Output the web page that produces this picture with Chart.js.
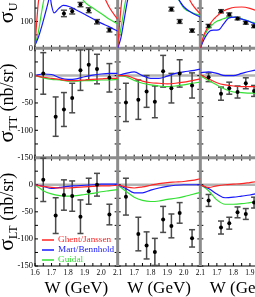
<!DOCTYPE html>
<html>
<head>
<meta charset="utf-8">
<script src="https://cdn.jsdelivr.net/npm/chart.js@4.4.1/dist/chart.umd.min.js"></script>
<style>
  html, body { margin: 0; padding: 0; background: #fff; }
  #wrap { position: relative; width: 255px; height: 297px; overflow: hidden; }
  #plot { position: absolute; left: 0; top: -77px; }
</style>
</head>
<body>
<div id="wrap"><canvas id="plot" width="290" height="374"></canvas></div>
<script>
const FONT = 'Liberation Serif';

const models = ['Ghent/Janssen', 'Mart/Bennhold', 'Guidal'];
const modelColors = ['#ff2424', '#1818ff', '#33e033'];

// W bins of the measured points (GeV)
const wData = [1.65, 1.725, 1.775, 1.825, 1.875, 1.925, 1.975, 2.05];
// W samples of the model curves
const wU = [1.6, 1.62, 1.64, 1.66, 1.68, 1.69, 1.70, 1.715, 1.74, 1.77, 1.81, 1.85, 1.9, 1.95, 2.0, 2.05, 2.1];
const wModel = [1.6, 1.65, 1.7, 1.75, 1.8, 1.85, 1.9, 1.95, 2.0, 2.05, 2.1];

// sigma_U data, columns 1..3 (null = outside the picture)
const sigU1 = [null, null, 130, 138, 163, 142, 99, 68];
const errU1 = [null, null, 12, 10, 8, 9, 8, 7];
const sigU2 = [null, null, null, null, null, 146, 100, 66];
const errU2 = [null, null, null, null, null, 7, 7, 6];
const sigU3 = [83, 138, 126, 111, 95, 82, null, null];
const errU3 = [6, 6, 6, 5, 5, 5, null, null];

// sigma_TT data
const sigTT1 = [4, -75, -62, -41, 10, 20, 12, -4];
const errTT1 = [38, 36, 31, 27, 37, 28, 27, 26];
const sigTT2 = [-49, -44, -29, -48, 8, -23, 4, -18];
const errTT2 = [35, 36, 29, 29, 29, 27, 25, 23];
const sigTT3 = [-3, -33, -23, -30, -14, -28, null, null];
const errTT3 = [8, 12, 11, 11, 10, 10, null, null];

// sigma_LT data
const sigLT1 = [9, -57, -19, -21, -59, -12, 0, -55];
const errLT1 = [40, 33, 28, 28, 31, 24, 21, 19];
const sigLT2 = [-22, -91, -112, -124, -64, -76, -52, -99];
const errLT2 = [34, 31, 25, 25, 24, 22, 19, 16];
const sigLT3 = [-29, -79, -71, -51, -54, -33, null, null];
const errLT3 = [11, 12, 11, 10, 10, 10, null, null];

// model curves, sigma_U (on wU)
const uRed1 = [10, 170, 250, 290, 310, 318, 325, 330, 335, 338, 338, 330, 310, 270, 215, 152, 108];
const uBlue1 = [12, 40, 80, 125, 172, 195, 160, 132, 146, 160, 155, 143, 127, 110, 94, 80, 64];
const uGreen1 = [8, 60, 135, 200, 240, 252, 260, 266, 270, 265, 250, 220, 173, 150, 130, 108, 91];
const uRed2 = [5, 150, 260, 300, 320, 325, 330, 335, 340, 340, 335, 320, 295, 260, 220, 165, 127];
const uBlue2 = [0, 40, 110, 180, 230, 245, 255, 262, 268, 270, 265, 255, 235, 200, 155, 132, 116];
const uGreen2 = [10, 75, 150, 215, 250, 260, 265, 270, 272, 270, 262, 250, 228, 200, 150, 133, 122];
const uRed3 = [0, 47, 73, 92, 108, 114, 120, 128, 139, 147, 153, 154, 149, 138, 125, 110, 95];
const uBlue3 = [0, 30, 52, 65, 68, 68, 68, 70, 90, 112, 116, 109, 99, 86, 78, 70, 64];
const uGreen3 = [0, 40, 65, 80, 92, 97, 101, 104, 110, 115, 115, 110, 100, 90, 82, 75, 70];

// model curves, sigma_TT (on wModel)
const ttRed1 = [0, -3, -5, -7, -9, -9, -8, -7, -6, -5, -5];
const ttBlue1 = [0, 3, 2, -4, -7, -6, -2, 1, 3, 4, 4];
const ttGreen1 = [0, -4, -7, -8, -10, -10, -9, -9, -8, -8, -7];
const ttRed2 = [0, 0, -5, -10, -13, -14, -15, -14, -12, -9, -6];
const ttBlue2 = [0, 4, 7, 0, -5, -5, -1, 4, 7, 9, 12];
const ttGreen2 = [0, -2, -9, -14, -17, -19, -20, -19, -17, -14, -12];
const ttRed3 = [2, -6, -13, -17, -19, -20, -20, -20, -20, -20, -20];
const ttBlue3 = [5, 7, 4, 0, 0, 4, 8, 11, 13, 14, 15];
const ttGreen3 = [0, -9, -17, -25, -30, -31, -32, -32, -32, -32, -32];

// model curves, sigma_LT (on wModel)
const ltRed1 = [0, -3, -5, -6, -6, -5, -4, -3, -2, -2, -1];
const ltBlue1 = [0, -3, -7, -5, -3, -2, -1, 0, 1, 1, 1];
const ltGreen1 = [0, -11, -17, -20, -21, -20, -18, -16, -13, -11, -9];
const ltRed2 = [0, -4, -6, -4, -1, 2, 4, 5, 6, 8, 11];
const ltBlue2 = [0, -7, -15, -15, -10, -6, -3, -1, 0, 0, 0];
const ltGreen2 = [0, -12, -23, -29, -31, -30, -27, -25, -22, -18, -14];
const ltRed3 = [0, -5, -2, 0, 1, 2, 4, 6, 7, 8, 9];
const ltBlue3 = [0, -7, -17, -24, -23, -21, -19, -16, -14, -12, -10];
const ltGreen3 = [0, -11, -28, -36, -36, -35, -33, -31, -29, -27, -25];

const rows = [
  { id: 'yU', sub: 'U', min: 0, max: 460, step: 100, minor: 50, h: 124, w: wU,
    vals: [sigU1, sigU2, sigU3], errs: [errU1, errU2, errU3],
    curves: [[uRed1, uBlue1, uGreen1], [uRed2, uBlue2, uGreen2], [uRed3, uBlue3, uGreen3]] },
  { id: 'yTT', sub: 'TT', min: -150, max: 50, step: 50, minor: 25, h: 110, w: wModel,
    vals: [sigTT1, sigTT2, sigTT3], errs: [errTT1, errTT2, errTT3],
    curves: [[ttRed1, ttBlue1, ttGreen1], [ttRed2, ttBlue2, ttGreen2], [ttRed3, ttBlue3, ttGreen3]] },
  { id: 'yLT', sub: 'LT', min: -150, max: 50, step: 50, minor: 25, h: 109, w: wModel,
    vals: [sigLT1, sigLT2, sigLT3], errs: [errLT1, errLT2, errLT3],
    curves: [[ltRed1, ltBlue1, ltGreen1], [ltRed2, ltBlue2, ltGreen2], [ltRed3, ltBlue3, ltGreen3]] }
];

const datasets = [];
rows.forEach(row => {
  for (let c = 0; c < 3; c++) {
    const xId = 'x' + (c + 1);
    row.curves[c].forEach((vals, m) => {
      datasets.push({
        label: models[m],
        showLine: true,
        order: 1,
        data: row.w.map((w, i) => ({ x: w, y: vals[i] })),
        borderColor: modelColors[m],
        borderWidth: 1.2,
        pointRadius: 0,
        cubicInterpolationMode: 'monotone',
        xAxisID: xId,
        yAxisID: row.id
      });
    });
    const pts = [];
    wData.forEach((w, i) => {
      if (row.vals[c][i] != null) pts.push({ x: w, y: row.vals[c][i], e: row.errs[c][i] });
    });
    datasets.push({
      label: 'data',
      order: 0,
      errorBars: true,
      data: pts,
      pointRadius: 2,
      pointHoverRadius: 2,
      backgroundColor: '#000',
      borderWidth: 0,
      xAxisID: xId,
      yAxisID: row.id
    });
  }
});

const scales = {};
for (let c = 1; c <= 3; c++) {
  scales['x' + c] = {
    type: 'linear', position: 'bottom', stack: 'w', stackWeight: 1,
    min: 1.6, max: 2.1,
    grid: { display: false, drawTicks: false }, border: { display: false },
    ticks: {
      stepSize: 0.1, autoSkip: false, maxRotation: 0, padding: 3, color: '#000',
      font: { family: FONT, size: 7.5 },
      callback: v => (c > 1 && Math.abs(v - 1.6) < 1e-6) ? null : v.toFixed(1)
    },
    title: { display: true, text: 'W (GeV)', color: '#000', padding: 0,
      font: { family: FONT, size: 17, lineHeight: 1 } },
    afterFit: s => { s.height = 31; s.paddingLeft = 0; s.paddingRight = 0; }
  };
}
rows.forEach((row, r) => {
  scales[row.id] = {
    type: 'linear', position: 'left', stack: 'sig', stackWeight: row.h, weight: 3 - r,
    min: row.min, max: row.max,
    grid: { display: false, drawTicks: false }, border: { display: false },
    ticks: {
      stepSize: row.step, padding: 2, color: '#000',
      font: { family: FONT, size: 8.5 },
      callback: v => (v === 50 || v % 100 !== 0 && row.id === 'yU') ? null : String(v)
    },
    afterFit: s => { s.width = 35; s.paddingTop = 0; s.paddingBottom = 0; }
  };
});

function seg(ctx, x1, y1, x2, y2) {
  ctx.beginPath(); ctx.moveTo(x1, y1); ctx.lineTo(x2, y2); ctx.stroke();
}

const panelDecor = {
  id: 'panelDecor',
  beforeDatasetsDraw(chart) {
    const ctx = chart.ctx;
    const xs = ['x1', 'x2', 'x3'].map(id => chart.scales[id]);
    ctx.save();
    rows.forEach(row => {
      const ys = chart.scales[row.id];
      xs.forEach(xsc => {
        const L = xsc.left, R = xsc.right, T = ys.top, B = ys.bottom;
        if (ys.min < 0) {
          const y0 = ys.getPixelForValue(0);
          ctx.strokeStyle = '#b4b4b4'; ctx.lineWidth = 2.5;
          seg(ctx, L, y0, R, y0);
        }
        ctx.strokeStyle = '#000'; ctx.lineWidth = 1;
        for (let w = 1.6; w <= 2.1 + 1e-9; w += 0.05) {
          const px = xsc.getPixelForValue(w);
          seg(ctx, px, B, px, B - 3);
          seg(ctx, px, T, px, T + 3);
        }
        for (let v = ys.min; v <= ys.max; v += row.minor) {
          const py = ys.getPixelForValue(v);
          seg(ctx, L, py, L + 3, py);
          seg(ctx, R, py, R - 3, py);
        }
        ctx.strokeRect(L, T, R - L, B - T);
      });
    });
    // shared panel borders
    const ca = chart.chartArea;
    ctx.strokeStyle = '#8c8c8c'; ctx.lineWidth = 3;
    [xs[1].left, xs[2].left].forEach(x => seg(ctx, x, ca.top, x, ca.bottom));
    [chart.scales.yTT.top, chart.scales.yLT.top].forEach(y => seg(ctx, ca.left, y, ca.right, y));

    // error bars
    ctx.strokeStyle = '#4a4a4a'; ctx.lineWidth = 1.5;
    chart.data.datasets.forEach(ds => {
      if (!ds.errorBars) return;
      const xsc = chart.scales[ds.xAxisID], ys = chart.scales[ds.yAxisID];
      ds.data.forEach(p => {
        const px = xsc.getPixelForValue(p.x);
        const y1 = ys.getPixelForValue(p.y + p.e), y2 = ys.getPixelForValue(p.y - p.e);
        seg(ctx, px, y1, px, y2);
        seg(ctx, px - 3, y1, px + 3, y1);
        seg(ctx, px - 3, y2, px + 3, y2);
      });
    });
    ctx.restore();
  },
  afterDraw(chart) {
    const ctx = chart.ctx;
    ctx.save();
    ctx.fillStyle = '#000';
    // y axis titles
    rows.forEach(row => {
      const ys = chart.scales[row.id];
      const parts = [
        { t: '\u03c3', f: '22px ' + FONT, dy: 0 },
        { t: row.sub, f: '12px ' + FONT, dy: 4 },
        { t: ' (nb/sr)', f: '18px ' + FONT, dy: 0 }
      ];
      let total = 0;
      parts.forEach(p => { ctx.font = p.f; p.w = ctx.measureText(p.t).width; total += p.w; });
      ctx.save();
      ctx.translate(13, (ys.top + ys.bottom) / 2);
      ctx.rotate(-Math.PI / 2);
      ctx.textBaseline = 'alphabetic';
      let x = -total / 2;
      parts.forEach(p => { ctx.font = p.f; ctx.fillText(p.t, x, p.dy); x += p.w; });
      ctx.restore();
    });
    // legend in the lower left panel
    const L = chart.scales.x1.left, B = chart.scales.yLT.bottom;
    ctx.font = '9.2px ' + FONT;
    ctx.textBaseline = 'middle';
    models.forEach((name, m) => {
      const y = B - 26 + m * 10;
      ctx.strokeStyle = modelColors[m]; ctx.lineWidth = 1.5;
      seg(ctx, L + 7, y, L + 19, y);
      ctx.fillStyle = modelColors[m];
      ctx.fillText(name, L + 23, y);
    });
    ctx.restore();
  }
};

new Chart(document.getElementById('plot'), {
  type: 'scatter',
  data: { datasets },
  options: {
    responsive: false,
    animation: false,
    devicePixelRatio: 1,
    layout: { padding: { top: 0, left: 0, bottom: 0, right: 7 } },
    plugins: { legend: { display: false }, tooltip: { enabled: false } },
    scales
  },
  plugins: [panelDecor]
});
</script>
</body>
</html>
